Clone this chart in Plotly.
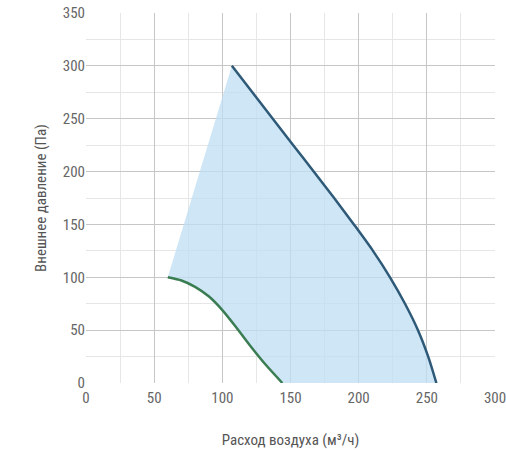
import plotly.graph_objects as go

# Upper (max) characteristic
blue_x = [107, 122, 137, 152, 167, 182, 196.5, 210.5, 223, 234, 243.5, 251, 257]
blue_y = [300, 275, 250, 225, 200, 175, 150, 125, 100, 75, 50, 25, 0]
# Lower (min) characteristic
green_x = [60, 70, 80, 90, 100, 110, 120, 132, 144]
green_y = [100, 97, 91, 82, 69, 53, 36, 17, 0]

x_ticks = [0, 50, 100, 150, 200, 250, 300]
y_ticks = [0, 50, 100, 150, 200, 250, 300, 350]

FONT = "Liberation Sans Narrow, Roboto Condensed, Arial Narrow, Roboto, sans-serif"

fill_x = blue_x + green_x[::-1]
fill_y = blue_y + green_y[::-1]

fig = go.Figure()
fig.add_trace(go.Scatter(x=fill_x, y=fill_y, fill="toself", mode="none",
                         fillcolor="rgba(190,222,243,0.75)", hoverinfo="skip",
                         showlegend=False))
fig.add_trace(go.Scatter(x=blue_x, y=blue_y, mode="lines",
                         line=dict(color="#2e5a78", width=2.5, shape="spline", smoothing=0.8),
                         showlegend=False))
fig.add_trace(go.Scatter(x=green_x, y=green_y, mode="lines",
                         line=dict(color="#3a7d52", width=2.5, shape="spline", smoothing=0.6),
                         showlegend=False))

axis_common = dict(
    showgrid=True, gridcolor="#c6c6c6", gridwidth=1.3,
    zeroline=False, showline=False, ticks="", automargin=False,
    ticklabeloverflow="allow",
    tickfont=dict(family=FONT, size=15, color="#666666"),
    minor=dict(showgrid=True, gridcolor="#e6e6e6", gridwidth=1),
    fixedrange=True,
)

fig.update_xaxes(range=[0, 300], tickvals=x_ticks, ticktext=[str(v) for v in x_ticks],
                 minor_dtick=25, minor_tick0=0, ticklabelstandoff=4,
                 title=dict(text="Расход воздуха (м³/ч)", standoff=28,
                            font=dict(family=FONT, size=15, color="#555555")),
                 **axis_common)
fig.update_yaxes(range=[0, 350], tickvals=y_ticks, ticktext=[str(v) for v in y_ticks],
                 minor_dtick=25, minor_tick0=0,
                 title=dict(text="Внешнее давление (Па)", standoff=12,
                            font=dict(family=FONT, size=15, color="#555555")),
                 **axis_common)

fig.update_layout(width=506, height=450,
                  margin=dict(l=86, r=11, t=13, b=67),
                  paper_bgcolor="white", plot_bgcolor="white",
                  showlegend=False)

fig.write_html("out.html", config={"displayModeBar": False},
               post_script="document.body.style.margin='0';document.body.style.overflow='hidden';")
